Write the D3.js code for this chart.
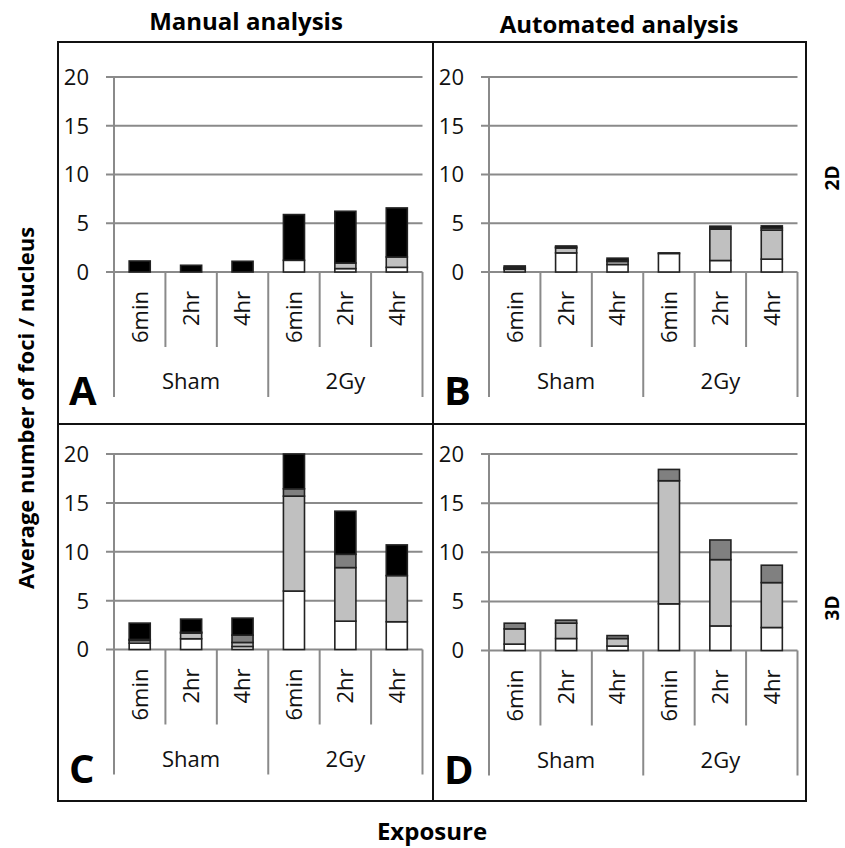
<!DOCTYPE html>
<html>
<head>
<meta charset="utf-8">
<script src="https://cdn.jsdelivr.net/npm/d3@7"></script>
<style>
  html, body { margin: 0; padding: 0; background: #fff; }
  svg { display: block; font-family: "Open Sans", sans-serif; }
</style>
</head>
<body>
<svg id="chart" width="845" height="848"></svg>
<script>
// ---------- data ----------
const categories = ["6min", "2hr", "4hr", "6min", "2hr", "4hr"];
const groups = ["Sham", "2Gy"];
const yTicks = [0, 5, 10, 15, 20];
const seriesNames = ["white", "lightGrey", "darkGrey", "black"];

// Panel A: Manual, 2D
const manual2D_white     = [0,    0,    0,    1.2,  0.35, 0.48];
const manual2D_lightGrey = [0,    0,    0,    0,    0.57, 1.06];
const manual2D_darkGrey  = [0,    0,    0,    0,    0,    0];
const manual2D_black     = [1.13, 0.69, 1.1,  4.69, 5.31, 5.03];

// Panel B: Automated, 2D
const auto2D_white     = [0.27, 1.96, 0.77, 1.9,  1.18, 1.32];
const auto2D_lightGrey = [0.1,  0.5,  0.31, 0,    3.21, 2.97];
const auto2D_darkGrey  = [0.1,  0.1,  0.14, 0,    0.16, 0.23];
const auto2D_black     = [0.15, 0.11, 0.2,  0.06, 0.15, 0.21];

// Panel C: Manual, 3D
const manual3D_white     = [0.65, 1.1,  0.31, 5.98, 2.9,  2.84];
const manual3D_lightGrey = [0.27, 0.57, 0.41, 9.71, 5.48, 4.72];
const manual3D_darkGrey  = [0.11, 0.1,  0.75, 0.75, 1.36, 0];
const manual3D_black     = [1.67, 1.34, 1.74, 3.56, 4.41, 3.14];

// Panel D: Automated, 3D
const auto3D_white     = [0.65, 1.22, 0.45, 4.75,  2.5,  2.34];
const auto3D_lightGrey = [1.55, 1.56, 0.77, 12.53, 6.75, 4.57];
const auto3D_darkGrey  = [0.58, 0.31, 0.3,  1.15,  2.0,  1.77];
const auto3D_black     = [0,    0,    0,    0,     0,    0];

const fills = { white: "#ffffff", lightGrey: "#c0c0c0", darkGrey: "#808080", black: "#000000" };

// ---------- layout ----------
const svg = d3.select("#chart");
const frame = { x0: 58, x1: 806, y0: 42, y1: 801, xm: 433, ym: 424 };

const panels = [
  { letter: "A", ox: 58,  oy: 42,  yTop: 35, yZero: 230, data: [manual2D_white, manual2D_lightGrey, manual2D_darkGrey, manual2D_black] },
  { letter: "B", ox: 433, oy: 42,  yTop: 35, yZero: 230, data: [auto2D_white, auto2D_lightGrey, auto2D_darkGrey, auto2D_black] },
  { letter: "C", ox: 58,  oy: 424, yTop: 30, yZero: 225.5, data: [manual3D_white, manual3D_lightGrey, manual3D_darkGrey, manual3D_black] },
  { letter: "D", ox: 433, oy: 424, yTop: 30, yZero: 226.5, data: [auto3D_white, auto3D_lightGrey, auto3D_darkGrey, auto3D_black] }
];

const gridColor = "#8a8a8a";

panels.forEach(p => {
  const g = svg.append("g").attr("transform", `translate(${p.ox},${p.oy})`);
  const xl = 56, xr = 364.5;
  const y = d3.scaleLinear().domain([0, 20]).range([p.yZero, p.yTop]);
  const x = d3.scaleBand().domain(d3.range(categories.length)).range([xl, xr])
              .paddingInner(0.59).paddingOuter(0.295);
  const step = (xr - xl) / categories.length;

  // gridlines (with tick stubs)
  g.selectAll("line.grid").data(yTicks).join("line")
    .attr("x1", xl - 8).attr("x2", xr)
    .attr("y1", d => y(d)).attr("y2", d => y(d))
    .attr("stroke", gridColor).attr("stroke-width", 2);

  // y axis line
  g.append("line").attr("x1", xl).attr("x2", xl)
    .attr("y1", y(20)).attr("y2", y(0))
    .attr("stroke", gridColor).attr("stroke-width", 2);

  // y tick labels
  g.selectAll("text.ytick").data(yTicks).join("text")
    .attr("x", xl - 25).attr("y", d => y(d))
    .attr("dy", "0.36em").attr("text-anchor", "end")
    .attr("font-size", 22).attr("fill", "#111")
    .text(d => d);

  // stacked bars
  const rows = categories.map((c, i) => {
    const r = { idx: i };
    seriesNames.forEach((s, k) => r[s] = p.data[k][i]);
    return r;
  });
  const stacked = d3.stack().keys(seriesNames)(rows);
  stacked.forEach(layer => {
    g.append("g").selectAll("rect").data(layer.filter(d => d[1] - d[0] > 0)).join("rect")
      .attr("x", d => x(d.data.idx))
      .attr("width", x.bandwidth())
      .attr("y", d => y(Math.min(d[1], 20)))
      .attr("height", d => y(d[0]) - y(Math.min(d[1], 20)))
      .attr("fill", fills[layer.key])
      .attr("stroke", "#222").attr("stroke-width", 1.6);
  });

  // category boundary lines
  const yz = y(0);
  d3.range(categories.length + 1).forEach(i => {
    const isGroup = i % 3 === 0;
    g.append("line")
      .attr("x1", xl + i * step).attr("x2", xl + i * step)
      .attr("y1", yz).attr("y2", yz + (isGroup ? 125 : 75))
      .attr("stroke", gridColor).attr("stroke-width", 2);
  });

  // rotated category labels
  categories.forEach((c, i) => {
    const cx = xl + (i + 0.5) * step;
    g.append("text")
      .attr("transform", `translate(${cx},${yz + 19}) rotate(-90)`)
      .attr("text-anchor", "end").attr("dy", "0.36em")
      .attr("font-size", 22).attr("fill", "#111")
      .text(c);
  });

  // group labels
  groups.forEach((gname, j) => {
    g.append("text")
      .attr("x", xl + (j * 3 + 1.5) * step).attr("y", yz + 117)
      .attr("text-anchor", "middle")
      .attr("font-size", 22).attr("fill", "#111")
      .text(gname);
  });

  // panel letter
  g.append("text")
    .attr("x", 11).attr("y", yz + 133)
    .attr("font-size", 40).attr("font-weight", "bold").attr("fill", "#000")
    .text(p.letter);
});

// frame
svg.append("rect").attr("x", frame.x0).attr("y", frame.y0)
  .attr("width", frame.x1 - frame.x0).attr("height", frame.y1 - frame.y0)
  .attr("fill", "none").attr("stroke", "#111").attr("stroke-width", 2);
svg.append("line").attr("x1", frame.xm).attr("x2", frame.xm).attr("y1", frame.y0).attr("y2", frame.y1)
  .attr("stroke", "#111").attr("stroke-width", 2);
svg.append("line").attr("x1", frame.x0).attr("x2", frame.x1).attr("y1", frame.ym).attr("y2", frame.ym)
  .attr("stroke", "#111").attr("stroke-width", 2);

// titles
svg.append("text").attr("x", 246).attr("y", 30).attr("text-anchor", "middle")
  .attr("font-size", 24).attr("font-weight", "bold").text("Manual analysis");
svg.append("text").attr("x", 619).attr("y", 33).attr("text-anchor", "middle")
  .attr("font-size", 24).attr("font-weight", "bold").text("Automated analysis");

// row labels
svg.append("text").attr("transform", "translate(832,178) rotate(-90)")
  .attr("text-anchor", "middle").attr("dy", "0.36em")
  .attr("font-size", 19).attr("font-weight", "bold").text("2D");
svg.append("text").attr("transform", "translate(832,608) rotate(-90)")
  .attr("text-anchor", "middle").attr("dy", "0.36em")
  .attr("font-size", 19).attr("font-weight", "bold").text("3D");

// axis titles
svg.append("text").attr("transform", "translate(26,408) rotate(-90)")
  .attr("text-anchor", "middle").attr("dy", "0.36em")
  .attr("font-size", 22).attr("font-weight", "bold").text("Average number of foci / nucleus");
svg.append("text").attr("x", 432).attr("y", 840).attr("text-anchor", "middle")
  .attr("font-size", 24).attr("font-weight", "bold").text("Exposure");
</script>
</body>
</html>
